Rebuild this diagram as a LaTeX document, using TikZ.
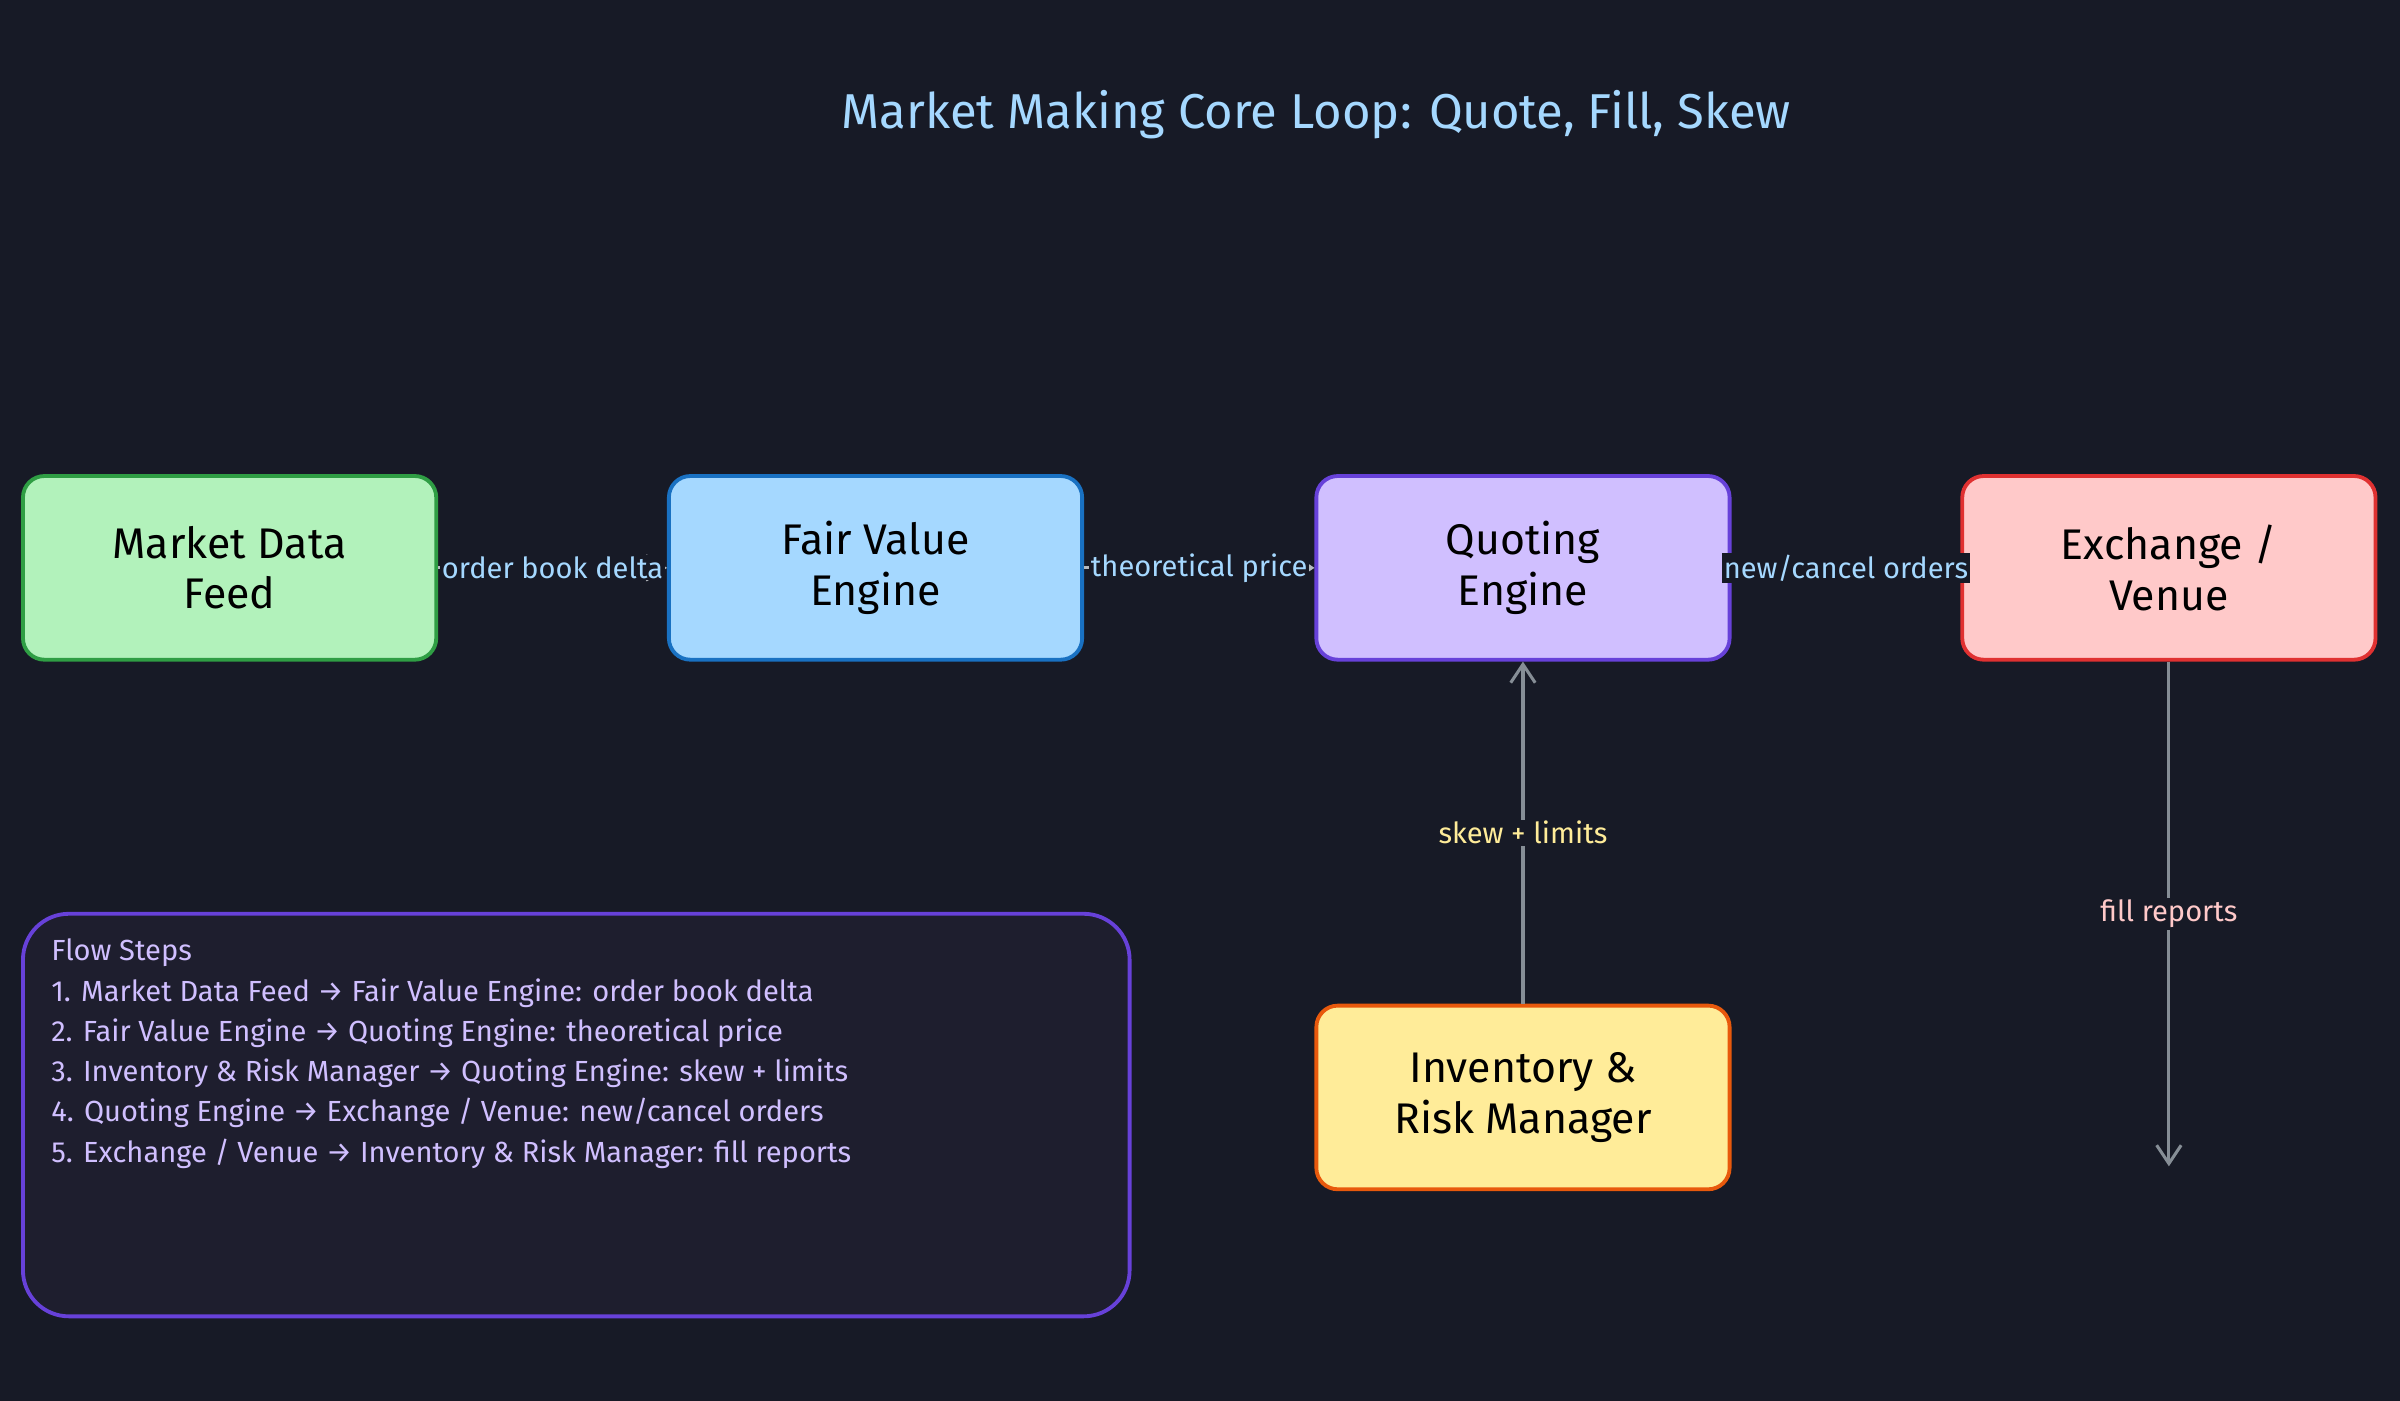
\documentclass[tikz,border=0pt]{standalone}
\usepackage{fontspec}
\setmainfont{Fira Sans}
\usetikzlibrary{arrows.meta}
\definecolor{bg}{HTML}{171A26}
\definecolor{notebg}{HTML}{1E1E2E}
\definecolor{lblue}{HTML}{A5D8FF}
\definecolor{conn}{HTML}{868E96}
\begin{document}
\begin{tikzpicture}[x=1pt,y=-1pt,
  box/.style={draw,line width=2.5pt,rounded corners=14pt,minimum width=270pt,minimum height=120pt,align=center,font=\fontsize{28}{33}\selectfont,text=black},
  lbl/.style={fill=bg,inner sep=1pt,font=\fontsize{19}{22}\selectfont},
  arr/.style={draw=conn,line width=2pt,-{Straight Barb[length=12pt,width=16pt]}}]
\fill[bg] (0,0) rectangle (1568,915);
\useasboundingbox (0,0) rectangle (1568,915);
\node[text=lblue,font=\fontsize{32}{38}\selectfont] (title) at (860,75) {Market Making Core Loop: Quote, Fill, Skew};
\node[box,fill={rgb,255:red,178;green,242;blue,187},draw={rgb,255:red,47;green,158;blue,68}] (mdf) at (150,371) {Market Data\\Feed};
\node[box,fill=lblue,draw={rgb,255:red,25;green,113;blue,194}] (fve) at (572,371) {Fair Value\\Engine};
\node[box,fill={rgb,255:red,208;green,191;blue,255},draw={rgb,255:red,103;green,65;blue,217}] (qe) at (995,371) {Quoting\\Engine};
\node[box,fill={rgb,255:red,255;green,201;blue,201},draw={rgb,255:red,224;green,49;blue,49}] (ex) at (1417,371) {Exchange /\\Venue};
\node[box,fill={rgb,255:red,255;green,236;blue,153},draw={rgb,255:red,232;green,89;blue,12}] (inv) at (995,717) {Inventory \&\\Risk Manager};
\coordinate (fillend) at (1417,762);
\draw[arr,draw=conn!60] (mdf) -- node[lbl,text=lblue]{order book delta} (fve);
\draw[arr,draw=conn!60] (fve) -- node[lbl,text=lblue]{theoretical price} (qe);
\draw[arr,draw=conn!60] (qe) -- node[lbl,text=lblue]{new/cancel orders} (ex);
\draw[arr] (inv) -- node[lbl,text={rgb,255:red,255;green,236;blue,153}]{skew + limits} (qe);
\draw[arr] (ex) -- node[lbl,text={rgb,255:red,255;green,201;blue,201}]{fill reports} (fillend);
\node[draw={rgb,255:red,103;green,65;blue,217},fill=notebg,line width=2.5pt,rounded corners=30pt,minimum width=723pt,minimum height=263pt] (notes) at (376.5,728.5) {};
\node[anchor=north west,align=left,text={rgb,255:red,208;green,191;blue,255},font=\fontsize{19}{26.3}\selectfont] (steps) at (30,610) {Flow Steps\\
1. Market Data Feed → Fair Value Engine: order book delta\\
2. Fair Value Engine → Quoting Engine: theoretical price\\
3. Inventory \& Risk Manager → Quoting Engine: skew + limits\\
4. Quoting Engine → Exchange / Venue: new/cancel orders\\
5. Exchange / Venue → Inventory \& Risk Manager: fill reports};
\end{tikzpicture}
\end{document}
